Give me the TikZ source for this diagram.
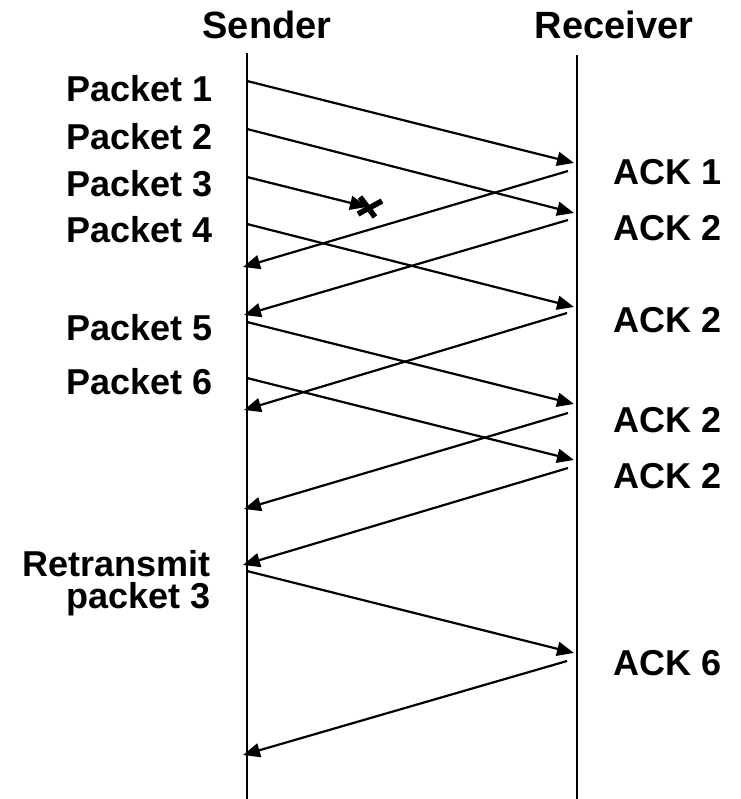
\documentclass[tikz,border=0pt]{standalone}
\usepackage{fontspec}
\setmainfont{Liberation Sans}
\usetikzlibrary{arrows.meta}

\begin{document}
\begin{tikzpicture}[
  x=1pt, y=-1pt, font=\fontsize{36}{32}\selectfont\bfseries,
  ll/.style={line width=2pt, black},
  ar/.style={-{Triangle[length=17pt, width=14pt]}, line width=2.2pt, black},
  hd/.style={inner sep=0pt, anchor=base, font=\fontsize{38}{40}\selectfont\bfseries},
  pk/.style={inner sep=0pt, anchor=base east, align=right},
  ak/.style={inner sep=0pt, anchor=base west},
  lost/.style={line width=5.5pt, black}]
\useasboundingbox (0,0) rectangle (740,799);

% ================= lifelines =================
\node[hd] (snd) at (267,39) {Sender};
\node[hd] (rcv) at (614,39) {Receiver};
\coordinate (sT) at (247,53);  \coordinate (sB) at (247,799);
\coordinate (rT) at (577,55);  \coordinate (rB) at (577,799);
\draw[ll] (sT) -- (sB);
\draw[ll] (rT) -- (rB);

% ================= sender side =================
\node[pk] (p1) at (213,102) {Packet 1};
\node[pk] (p2) at (213,150) {Packet 2};
\node[pk] (p3) at (213,197) {Packet 3};
\node[pk] (p4) at (213,243) {Packet 4};
\node[pk] (p5) at (213,340) {Packet 5};
\node[pk] (p6) at (213,394) {Packet 6};
% base of a two-line node sits on its last line
\node[pk] (rp3) at (211,608) {Retransmit\\packet 3};

% send points on the sender line
\coordinate (s1) at (247,81);
\coordinate (s2) at (247,129);
\coordinate (s3) at (247,177);
\coordinate (s4) at (247,224);
\coordinate (s5) at (247,322);
\coordinate (s6) at (247,378);
\coordinate (s7) at (247,571);

% arrival points just short of the receiver line
\coordinate (r1) at (574,163);
\coordinate (r2) at (574,213);
\coordinate (r4) at (574,307);
\coordinate (r5) at (574,404);
\coordinate (r6) at (574,460);
\coordinate (r7) at (574,653);

% packet 3 dies on the way
\coordinate (x3) at (367,207);

\draw[ar] (s1) -- (r1);
\draw[ar] (s2) -- (r2);
\draw[ar] (s3) -- (x3);
\draw[ar] (s4) -- (r4);
\draw[ar] (s5) -- (r5);
\draw[ar] (s6) -- (r6);
\draw[ar] (s7) -- (r7);

% loss mark
\draw[lost] (360,197) -- (375,217);
\draw[lost] (382,201) -- (358,214);

% ================= receiver side =================
\node[ak] (a1) at (613,185) {ACK 1};
\node[ak] (a2) at (613,241) {ACK 2};
\node[ak] (a3) at (613,332) {ACK 2};
\node[ak] (a4) at (613,432) {ACK 2};
\node[ak] (a5) at (613,488) {ACK 2};
\node[ak] (a6) at (613,675) {ACK 6};

% ack send points and returns on the sender line
\coordinate (k1) at (568,171);  \coordinate (b1) at (243,267);
\coordinate (k2) at (568,220);  \coordinate (b2) at (244,315);
\coordinate (k3) at (567,313);  \coordinate (b3) at (244,410);
\coordinate (k4) at (568,413);  \coordinate (b4) at (244,509);
\coordinate (k5) at (568,468);  \coordinate (b5) at (243,565);
\coordinate (k6) at (567,661);  \coordinate (b6) at (243,755);

\draw[ar] (k1) -- (b1);
\draw[ar] (k2) -- (b2);
\draw[ar] (k3) -- (b3);
\draw[ar] (k4) -- (b4);
\draw[ar] (k5) -- (b5);
\draw[ar] (k6) -- (b6);
\end{tikzpicture}
\end{document}
